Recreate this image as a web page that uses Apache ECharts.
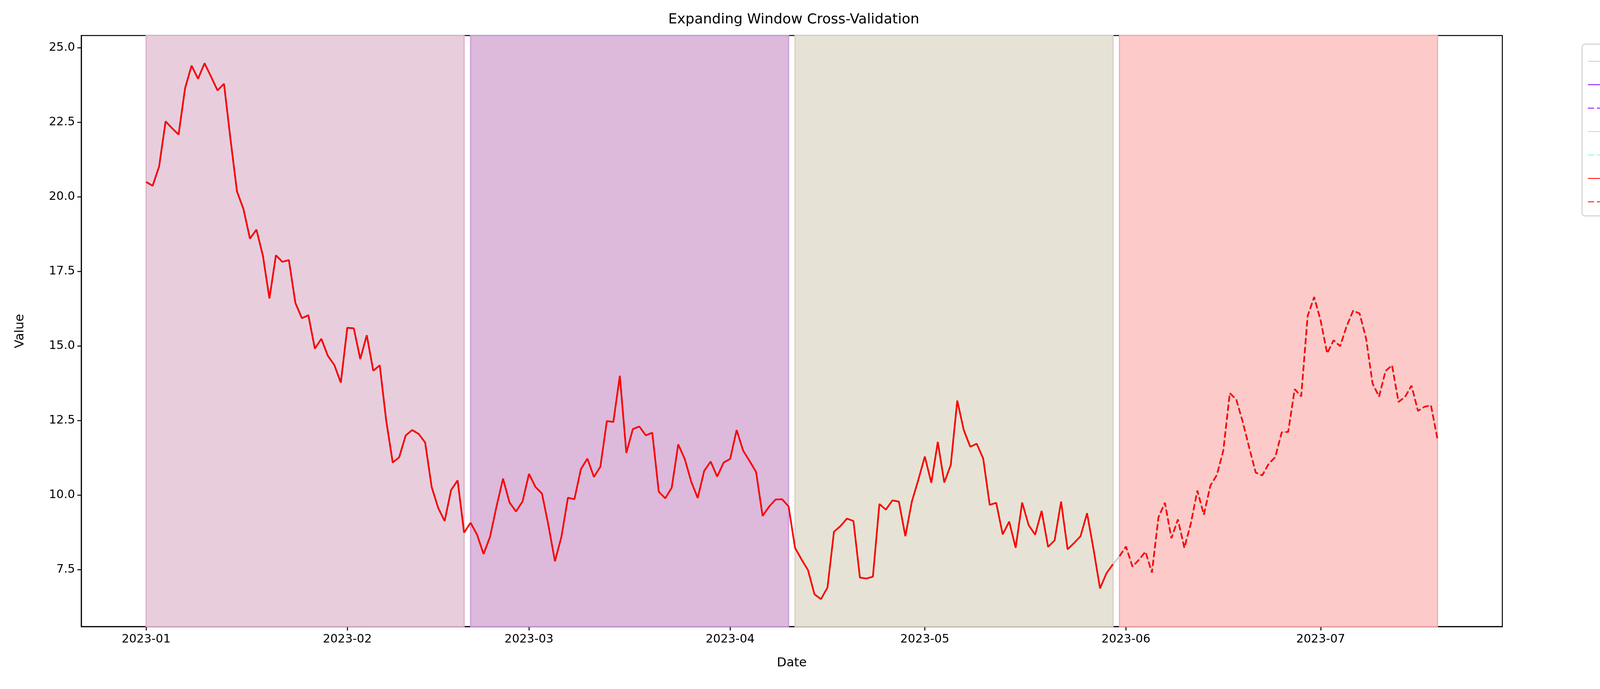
<!DOCTYPE html>
<html>
<head>
<meta charset="utf-8">
<script src="https://cdn.jsdelivr.net/npm/echarts@6/dist/echarts.min.js"></script>
<style>
html, body { margin: 0; padding: 0; background: #fff; }
#main { width: 4477px; height: 1765px; }
</style>
</head>
<body>
<div id="main"></div>
<script>
// values, one per day from 2023-01-01
var values = [
  20.50, 20.37, 21.02, 22.53, 22.30, 22.09, 23.64, 24.40, 23.96, 24.48,
  24.03, 23.57, 23.79, 21.93, 20.18, 19.59, 18.60, 18.90, 18.02, 16.59,
  18.04, 17.82, 17.88, 16.44, 15.93, 16.03, 14.91, 15.24, 14.67, 14.36,
  13.77, 15.61, 15.59, 14.56, 15.36, 14.17, 14.35, 12.49, 11.09, 11.27,
  12.00, 12.18, 12.05, 11.76, 10.27, 9.57, 9.13, 10.17, 10.49, 8.74,
  9.07, 8.67, 8.02, 8.60, 9.62, 10.55, 9.75, 9.45, 9.78, 10.71,
  10.27, 10.05, 8.98, 7.78, 8.60, 9.91, 9.86, 10.87, 11.22, 10.61,
  10.95, 12.48, 12.45, 14.00, 11.41, 12.21, 12.30, 12.00, 12.09, 10.11,
  9.89, 10.25, 11.70, 11.21, 10.45, 9.90, 10.81, 11.12, 10.62, 11.09,
  11.21, 12.18, 11.49, 11.14, 10.77, 9.30, 9.61, 9.85, 9.86, 9.62,
  8.23, 7.84, 7.48, 6.67, 6.51, 6.90, 8.77, 8.96, 9.21, 9.13,
  7.23, 7.20, 7.26, 9.70, 9.51, 9.82, 9.78, 8.62, 9.78, 10.51,
  11.29, 10.41, 11.78, 10.42, 11.01, 13.17, 12.18, 11.62, 11.72, 11.22,
  9.67, 9.74, 8.68, 9.11, 8.23, 9.75, 8.99, 8.67, 9.47, 8.26,
  8.48, 9.78, 8.18, 8.39, 8.62, 9.39, 8.18, 6.87, 7.38, 7.68,
  7.95, 8.27, 7.60, 7.83, 8.10, 7.40, 9.25, 9.74, 8.55, 9.18,
  8.23, 9.05, 10.15, 9.34, 10.31, 10.67, 11.49, 13.42, 13.20, 12.45,
  11.58, 10.75, 10.66, 11.05, 11.27, 12.10, 12.12, 13.55, 13.31, 16.01,
  16.64, 15.85, 14.75, 15.19, 14.99, 15.66, 16.18, 16.09, 15.25, 13.74,
  13.30, 14.16, 14.35, 13.12, 13.29, 13.67, 12.82, 12.96, 13.01, 11.88
];
var startDate = '2023-01-01';
var yTicks = [7.5, 10.0, 12.5, 15.0, 17.5, 20.0, 22.5, 25.0];
var monthTicks = ['2023-01-01', '2023-02-01', '2023-03-01', '2023-04-01', '2023-05-01', '2023-06-01', '2023-07-01'];
// folds as [trainStart, trainEnd, testStart, testEnd] day indexes
var folds = [[0, 49, 50, 99], [0, 99, 100, 149], [0, 149, 150, 199]];
var foldNames = [['Train 1', 'Test 1'], ['Train 2', 'Test 2'], ['Train 3', 'Test 3']];
var foldColors = ['#8000ff', '#80ffb4', '#ff0000'];
// shaded windows by day index
var spans = [[0, 49], [50, 99], [100, 149], [150, 199]];
var spanColors = ['#e8cedd', '#ddb9db', '#e6e3d6', '#fdcaca'];
var spanEdges = ['#dcb0c8', '#c99bd9', '#d6d0c0', '#f9aaaa'];

var DAY = 86400000;
var t0 = new Date(startDate + 'T00:00:00').getTime();
function dayTs(i) { return t0 + i * DAY; }
var dates = values.map(function (v, i) { return dayTs(i); });
var monthTs = monthTicks.map(function (d) { return new Date(d + 'T00:00:00').getTime(); });
function part(a, b) {
  var out = [];
  for (var i = a; i <= b; i++) out.push([dates[i], values[i]]);
  return out;
}

var series = [{
  name: 'Full Dataset', type: 'line', symbol: 'none',
  data: part(0, values.length - 1),
  lineStyle: { color: '#cccccc', width: 4.3 },
  itemStyle: { color: '#cccccc' },
  z: 2,
  markArea: {
    silent: true,
    data: spans.map(function (s, i) {
      return [{ xAxis: dayTs(s[0]), itemStyle: { color: spanColors[i], borderColor: spanEdges[i], borderWidth: 3 } },
              { xAxis: dayTs(s[1]) }];
    })
  }
}];
folds.forEach(function (f, k) {
  series.push({
    name: foldNames[k][0], type: 'line', symbol: 'none', data: part(f[0], f[1]),
    lineStyle: { color: foldColors[k], width: 4.3 }, itemStyle: { color: foldColors[k] }, z: 3 + k
  });
  series.push({
    name: foldNames[k][1], type: 'line', symbol: 'none', data: part(f[2], f[3]),
    lineStyle: { color: foldColors[k], width: 4.3, type: [16, 7] }, itemStyle: { color: foldColors[k] }, z: 3 + k
  });
});

var chart = echarts.init(document.getElementById('main'));
var font = 'DejaVu Sans';
chart.setOption({
  animation: false,
  backgroundColor: '#fff',
  title: {
    text: 'Expanding Window Cross-Validation', left: 2027, top: 28, textAlign: 'center',
    textStyle: { fontFamily: font, fontSize: 36, fontWeight: 'normal', color: '#000' }
  },
  legend: {
    orient: 'vertical', left: 4050, top: 113,
    itemWidth: 80, itemHeight: 14, itemGap: 28,
    padding: [28, 24, 20, 14],
    borderColor: '#d6d6d6', borderWidth: 3, borderRadius: 8,
    textStyle: { fontFamily: font, fontSize: 32, color: '#000', padding: [0, 0, 0, 14] },
    data: ['Full Dataset', 'Train 1', 'Test 1', 'Train 2', 'Test 2', 'Train 3', 'Test 3']
  },
  grid: { left: 208, right: 631, top: 91, bottom: 160, show: true, borderColor: '#000', borderWidth: 2.5, backgroundColor: 'transparent' },
  xAxis: {
    type: 'value', min: dayTs(-10), max: dayTs(209),
    name: 'Date', nameLocation: 'middle', nameGap: 78,
    nameTextStyle: { fontFamily: font, fontSize: 32, color: '#000' },
    axisLine: { show: true, lineStyle: { color: '#000', width: 2.5 } },
    axisTick: { show: true, length: 10, lineStyle: { color: '#000', width: 2.5 }, customValues: monthTs },
    axisLabel: {
      fontFamily: font, fontSize: 30, color: '#000', margin: 18, customValues: monthTs,
      formatter: function (v) { var d = new Date(v); var m = d.getMonth() + 1; return d.getFullYear() + '-' + (m < 10 ? '0' + m : m); }
    },
    splitLine: { show: false }
  },
  yAxis: {
    type: 'value', min: 5.59, max: 25.41,
    name: 'Value', nameLocation: 'middle', nameGap: 140, nameRotate: 90,
    nameTextStyle: { fontFamily: font, fontSize: 32, color: '#000' },
    axisLine: { show: true, lineStyle: { color: '#000', width: 2.5 } },
    axisTick: { show: true, length: 10, lineStyle: { color: '#000', width: 2.5 }, customValues: yTicks },
    axisLabel: { fontFamily: font, fontSize: 30, color: '#000', margin: 16, customValues: yTicks,
      formatter: function (v) { return v.toFixed(1); } },
    splitLine: { show: false }
  },
  series: series
});
</script>
</body>
</html>
